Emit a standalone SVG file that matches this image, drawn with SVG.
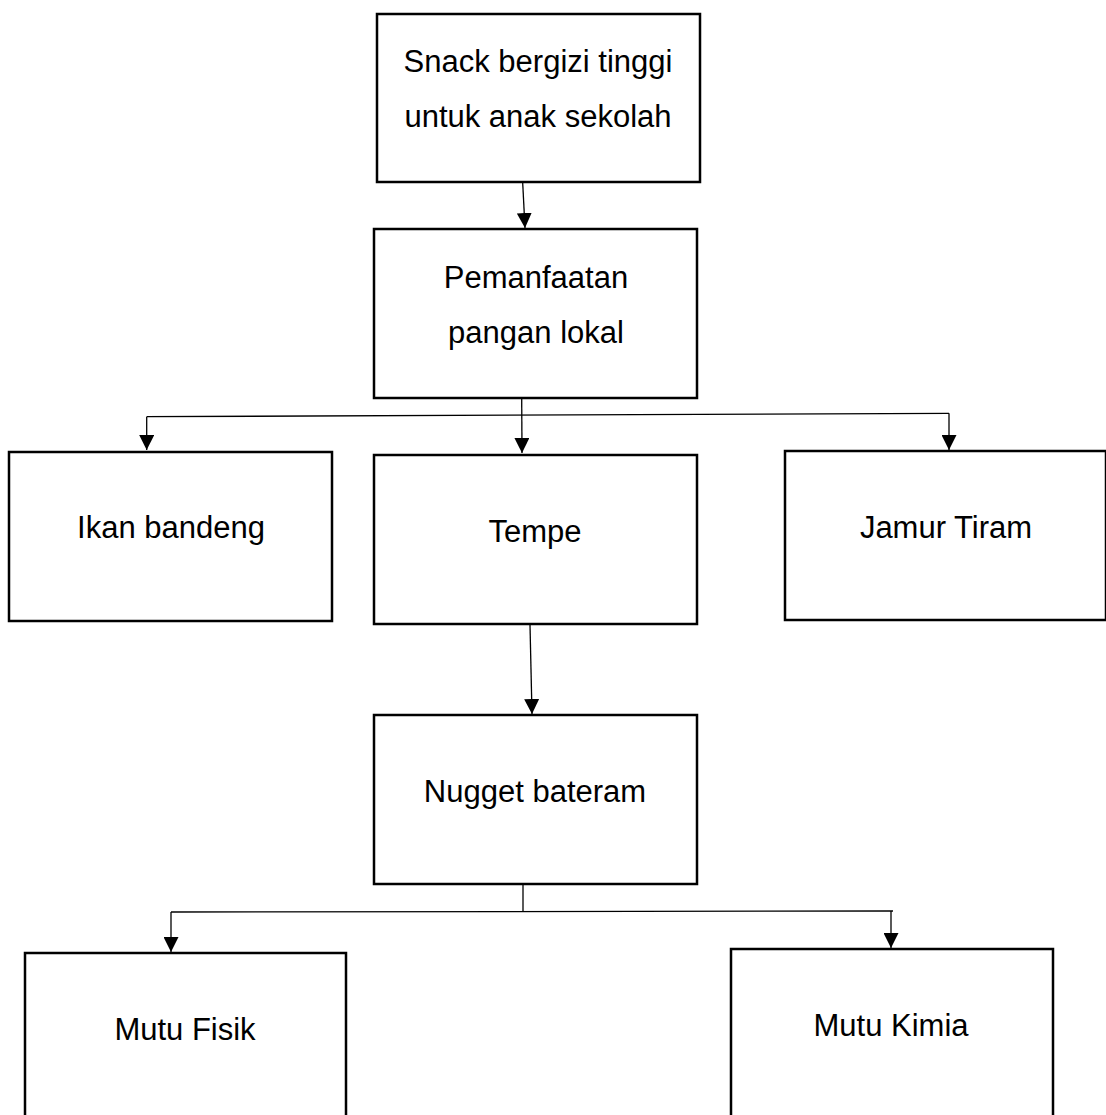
<svg xmlns="http://www.w3.org/2000/svg" width="1106" height="1115" viewBox="0 0 1106 1115">
<style>
.box{fill:#fff;stroke:#000;stroke-width:2.5}
.lbl{font-family:"Liberation Sans",Arial,sans-serif;font-size:31px;fill:#000;text-anchor:middle}
.con{fill:none;stroke:#000;stroke-width:1.3}
</style>
<defs>
<marker id="arr" viewBox="0 0 15 15" refX="15" refY="7.5" markerWidth="15" markerHeight="15" markerUnits="userSpaceOnUse" orient="auto">
<path d="M0,0 L15,7.5 L0,15 z" fill="#000"/>
</marker>
</defs>
<rect width="1106" height="1115" fill="#fff"/>
<g id="n1"><rect class="box" x="377" y="14" width="323" height="168"/>
<text class="lbl" x="538" y="72">Snack bergizi tinggi</text>
<text class="lbl" x="538" y="127">untuk anak sekolah</text></g>
<g id="n2"><rect class="box" x="374" y="229" width="323" height="169"/>
<text class="lbl" x="536" y="288">Pemanfaatan</text>
<text class="lbl" x="536" y="343">pangan lokal</text></g>
<g id="n3"><rect class="box" x="9" y="452" width="323" height="169"/>
<text class="lbl" x="171" y="538">Ikan bandeng</text></g>
<g id="n4"><rect class="box" x="374" y="455" width="323" height="169"/>
<text class="lbl" x="535" y="542">Tempe</text></g>
<g id="n5"><rect class="box" x="785" y="451" width="321" height="169"/>
<text class="lbl" x="946" y="538">Jamur Tiram</text></g>
<g id="n6"><rect class="box" x="374" y="715" width="323" height="169"/>
<text class="lbl" x="535" y="802">Nugget bateram</text></g>
<g id="n7"><rect class="box" x="25" y="953" width="321" height="180"/>
<text class="lbl" x="185" y="1040">Mutu Fisik</text></g>
<g id="n8"><rect class="box" x="731" y="949" width="322" height="184"/>
<text class="lbl" x="891" y="1036">Mutu Kimia</text></g>
<g id="connectors">
<line class="con" x1="522.7" y1="183" x2="525" y2="228" marker-end="url(#arr)"/>
<line class="con" x1="521.7" y1="399" x2="522" y2="453" marker-end="url(#arr)"/>
<line class="con" x1="146.7" y1="416.7" x2="949" y2="413.3"/>
<line class="con" x1="146.7" y1="416.7" x2="146.7" y2="450" marker-end="url(#arr)"/>
<line class="con" x1="949" y1="413.3" x2="949" y2="450" marker-end="url(#arr)"/>
<line class="con" x1="530" y1="625" x2="532" y2="714" marker-end="url(#arr)"/>
<line class="con" x1="523" y1="885" x2="523" y2="912"/>
<line class="con" x1="171" y1="912" x2="893" y2="911"/>
<line class="con" x1="171" y1="912" x2="171" y2="952" marker-end="url(#arr)"/>
<line class="con" x1="891" y1="911" x2="891" y2="948" marker-end="url(#arr)"/>
</g>
</svg>
